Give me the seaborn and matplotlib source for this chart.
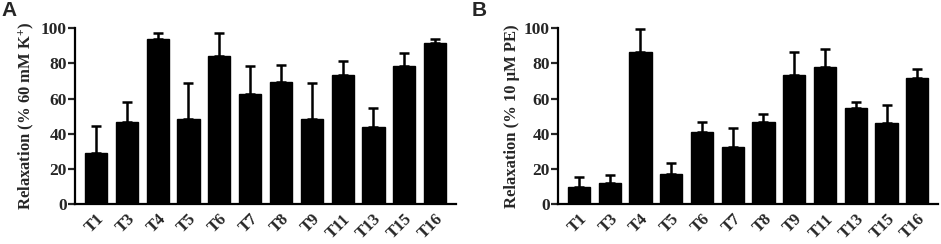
import numpy as np
import pandas as pd
import matplotlib
matplotlib.use("Agg")
import matplotlib.pyplot as plt
import seaborn as sns

# data
compounds = ["T1", "T3", "T4", "T5", "T6", "T7", "T8", "T9", "T11", "T13", "T15", "T16"]

kcl_mean = [29.2, 46.5, 94.0, 48.6, 84.4, 62.7, 69.5, 48.6, 73.2, 44.1, 78.7, 91.8]
kcl_sem = [15.1, 11.4, 3.6, 20.0, 12.7, 15.8, 9.8, 20.0, 8.4, 10.8, 7.0, 2.2]

pe_mean = [9.5, 11.9, 86.4, 17.2, 41.1, 32.4, 46.4, 73.5, 77.7, 54.4, 46.0, 71.8]
pe_sem = [5.8, 4.6, 13.2, 6.1, 5.7, 10.8, 4.7, 12.9, 10.4, 3.4, 10.6, 5.3]

sns.set_style("white")
plt.rcParams["font.family"] = ["Liberation Serif", "DejaVu Serif"]
plt.rcParams["font.weight"] = "bold"
plt.rcParams["axes.labelweight"] = "bold"
plt.rcParams["mathtext.fontset"] = "custom"
plt.rcParams["mathtext.bf"] = "Liberation Serif:bold"
plt.rcParams["mathtext.rm"] = "Liberation Serif:bold"
plt.rcParams["mathtext.default"] = "bf"

fig = plt.figure(figsize=(9.41, 2.44), dpi=100)
axA = fig.add_axes([0.0797, 0.164, 0.405, 0.72])
axB = fig.add_axes([0.593, 0.164, 0.404, 0.72])


def draw(ax, means, sems, ylabel):
    df = pd.DataFrame({"compound": compounds, "relax": means})
    sns.barplot(data=df, x="compound", y="relax", color="black",
                edgecolor="black", width=0.72, ax=ax, errorbar=None,
                saturation=1)
    ax.errorbar(np.arange(len(means)), means,
                yerr=[np.zeros(len(sems)), sems], fmt="none",
                ecolor="black", elinewidth=1.8, capsize=3.6, capthick=1.8)
    ax.set_ylim(0, 100)
    ax.set_xlim(-0.68, 11.68)
    ax.set_yticks([0, 20, 40, 60, 80, 100])
    ax.set_xlabel("")
    ax.set_ylabel(ylabel, fontsize=12, fontweight="bold", labelpad=3)
    for s in ["top", "right"]:
        ax.spines[s].set_visible(False)
    for s in ["left", "bottom"]:
        ax.spines[s].set_linewidth(1.6)
        ax.spines[s].set_color("black")
    ax.tick_params(axis="y", direction="out", length=5, width=1.6,
                   labelsize=12.5, left=True, pad=1)
    ax.tick_params(axis="x", length=0, labelsize=12, pad=5)
    plt.setp(ax.get_xticklabels(), rotation=45, ha="right",
             rotation_mode="anchor", fontweight="bold")
    plt.setp(ax.get_yticklabels(), fontweight="bold")


draw(axA, kcl_mean, kcl_sem, r"Relaxation (% 60 mM K$^{+}$)")
draw(axB, pe_mean, pe_sem, "Relaxation (% 10 μM PE)")

fig.text(0.002, 0.995, "A", fontsize=15, fontweight="bold",
         family="Liberation Sans", va="top", ha="left")
fig.text(0.501, 0.995, "B", fontsize=15, fontweight="bold",
         family="Liberation Sans", va="top", ha="left")

fig.savefig("out.png", dpi=100)
